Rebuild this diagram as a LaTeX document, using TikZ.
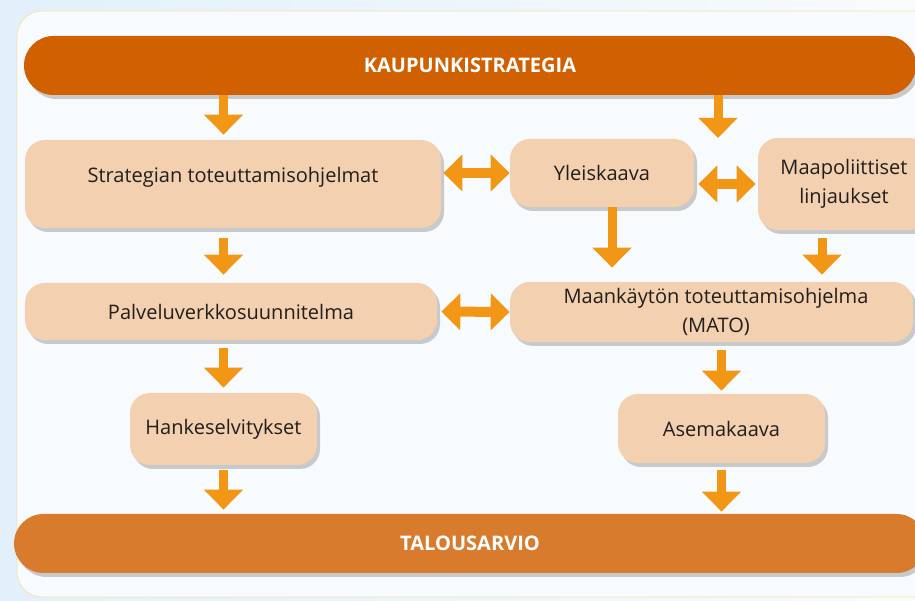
\documentclass[tikz,border=0pt]{standalone}
\usepackage{fontspec}
\setmainfont{Open Sans}
\usetikzlibrary{arrows.meta,positioning,shadows,calc}
\definecolor{rust}{RGB}{208,96,0}
\definecolor{clay}{RGB}{216,123,45}
\definecolor{sand}{RGB}{242,208,176}
\definecolor{amber}{RGB}{242,150,22}
\definecolor{sky}{RGB}{226,240,251}
\definecolor{paper}{RGB}{248,251,254}
\definecolor{straw}{RGB}{247,224,168}
\definecolor{ink}{RGB}{34,30,28}
\tikzset{
  bar/.style={fill=#1,text=white,rounded corners=0.59cm,minimum height=1.18cm,
    font=\fontsize{11.4}{14}\selectfont\bfseries,
    drop shadow={opacity=0.4,shadow xshift=0.6mm,shadow yshift=-0.8mm}},
  bar/.default=rust,
  step box/.style={fill=sand,text=ink,rounded corners=0.4cm,align=center,
    font=\fontsize{11.4}{16.5}\selectfont,inner sep=0pt,
    drop shadow={opacity=0.4,shadow xshift=0.6mm,shadow yshift=-0.8mm}},
  flow/.style={-{Triangle[width=7.6mm,length=4mm]},line width=1.8mm,draw=amber},
  both flow/.style={{Triangle[width=7.2mm,length=3.8mm]}-{Triangle[width=7.2mm,length=3.8mm]},
    line width=2mm,draw=amber},
}
\begin{document}
\begin{tikzpicture}
  \useasboundingbox (0,0) rectangle (18.30,12.02);
  \clip (0,0) rectangle (18.30,12.02);
  % backdrop
  \fill[left color=sky,right color=paper] (0,0) rectangle (18.30,12.02);
  \draw[straw,fill=paper,rounded corners=0.5cm] (0.34,0.08) rectangle (18.9,11.80);

  % bars
  \node[bar=rust,minimum width=17.84cm] (kaup) at (9.40,10.71) {KAUPUNKISTRATEGIA};
  \node[bar=clay,minimum width=18.24cm] (talous) at (9.40,1.15) {TALOUSARVIO};

  % steps
  \node[step box,minimum width=8.32cm,minimum height=1.76cm] (strat) at (4.66,8.34) {Strategian toteuttamisohjelmat\\[-2mm]};
  \node[step box,minimum width=3.68cm,minimum height=1.36cm] (yleis) at (12.04,8.56) {Yleiskaava};
  \node[step box,minimum width=3.44cm,minimum height=1.84cm] (maapol) at (16.88,8.34) {Maapoliittiset\\linjaukset};
  \node[step box,minimum width=8.06cm,minimum height=1.20cm] (mato) at (14.23,5.78) {\hspace*{1.8mm}Maankäytön toteuttamisohjelma\\\hspace*{1.8mm}(MATO)};
  \node[step box,minimum width=8.24cm,minimum height=1.14cm] (palv) at (4.62,5.79) {Palveluverkkosuunnitelma};
  \node[step box,minimum width=3.74cm,minimum height=1.44cm] (hanke) at (4.47,3.44) {Hankeselvitykset};
  \node[step box,minimum width=4.14cm,minimum height=1.38cm] (asema) at (14.43,3.45) {Asemakaava};
  \coordinate (kp) at (14.36,9.26);

  % downward flows
  \draw[flow,shorten >=1mm] (hanke.north |- kaup.south) -- (hanke.north |- strat.north);
  \draw[flow] (kp |- kaup.south) -- (kp);
  \draw[flow,shorten <=2mm,shorten >=1.6mm] (hanke.north |- strat.south) -- (hanke.north |- palv.north);
  \draw[flow,shorten <=1.6mm,shorten >=1mm] (hanke.north |- palv.south) -- (hanke.north);
  \draw[flow,shorten <=1mm,shorten >=0.8mm] (hanke.south) -- (hanke.south |- talous.north);
  \draw[flow,shorten >=2.8mm] ([xshift=2mm]yleis.south) -- ([xshift=2mm]yleis.south |- mato.north);
  \draw[flow,shorten <=1.6mm,shorten >=1.4mm] ([xshift=-4.4mm]maapol.south) -- ([xshift=-4.4mm]maapol.south |- mato.north);
  \draw[flow,shorten <=1.6mm,shorten >=0.6mm] (asema.north |- mato.south) -- (asema.north);
  \draw[flow,shorten <=1.4mm,shorten >=0.4mm] (asema.south) -- (asema.south |- talous.north);

  % two-way links
  \draw[both flow,shorten <=0.4mm] (strat.east |- yleis.west) -- (yleis.west);
  \draw[both flow,shorten <=0.8mm,shorten >=0.4mm] (yleis.east |- maapol.west) -- (maapol.west);
  \draw[both flow,shorten <=0.8mm] (palv.east) -- (mato.west);
\end{tikzpicture}
\end{document}
